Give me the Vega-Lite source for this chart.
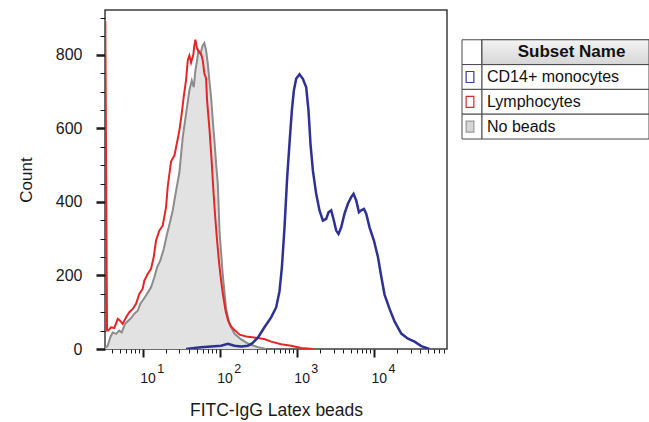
{
  "$schema": "https://vega.github.io/schema/vega-lite/v6.json",
  "background": "white",
  "padding": {"left": 16, "top": 9, "right": 0, "bottom": 0},
  "bounds": "flush",
  "spacing": 15,
  "config": {
    "font": "Liberation Sans",
    "view": {"stroke": "#3c3c3c", "strokeWidth": 1.5},
    "axis": {"domain": false, "grid": false, "tickColor": "#1a1a1a", "labelColor": "#1a1a1a", "titleColor": "#1a1a1a", "labelFont": "Liberation Sans", "titleFont": "Liberation Sans", "titleFontWeight": "normal"},
    "text": {"font": "Liberation Sans"}
  },
  "datasets": {
    "curves": [
      {"s": "Lymphocytes", "x": 3.27, "c": 892}, {"s": "Lymphocytes", "x": 3.44, "c": 50}, {"s": "Lymphocytes", "x": 3.57, "c": 50}, {"s": "Lymphocytes", "x": 3.88, "c": 59}, {"s": "Lymphocytes", "x": 4.28, "c": 57}, {"s": "Lymphocytes", "x": 4.74, "c": 82}, {"s": "Lymphocytes", "x": 4.97, "c": 79}, {"s": "Lymphocytes", "x": 5.5, "c": 68}, {"s": "Lymphocytes", "x": 6.07, "c": 86}, {"s": "Lymphocytes", "x": 6.7, "c": 100}, {"s": "Lymphocytes", "x": 7.42, "c": 109}, {"s": "Lymphocytes", "x": 8.19, "c": 123}, {"s": "Lymphocytes", "x": 9.03, "c": 150}, {"s": "Lymphocytes", "x": 10.0, "c": 164}, {"s": "Lymphocytes", "x": 10.49, "c": 186}, {"s": "Lymphocytes", "x": 11.61, "c": 204}, {"s": "Lymphocytes", "x": 12.82, "c": 218}, {"s": "Lymphocytes", "x": 13.9, "c": 250}, {"s": "Lymphocytes", "x": 14.88, "c": 295}, {"s": "Lymphocytes", "x": 16.43, "c": 322}, {"s": "Lymphocytes", "x": 18.19, "c": 336}, {"s": "Lymphocytes", "x": 20.08, "c": 386}, {"s": "Lymphocytes", "x": 21.12, "c": 442}, {"s": "Lymphocytes", "x": 23.31, "c": 510}, {"s": "Lymphocytes", "x": 25.73, "c": 526}, {"s": "Lymphocytes", "x": 27.07, "c": 548}, {"s": "Lymphocytes", "x": 29.88, "c": 594}, {"s": "Lymphocytes", "x": 32.1, "c": 641}, {"s": "Lymphocytes", "x": 34.08, "c": 687}, {"s": "Lymphocytes", "x": 36.5, "c": 731}, {"s": "Lymphocytes", "x": 38.4, "c": 785}, {"s": "Lymphocytes", "x": 40.29, "c": 798}, {"s": "Lymphocytes", "x": 42.4, "c": 779}, {"s": "Lymphocytes", "x": 45.41, "c": 801}, {"s": "Lymphocytes", "x": 46.79, "c": 826}, {"s": "Lymphocytes", "x": 48.21, "c": 841}, {"s": "Lymphocytes", "x": 50.73, "c": 817}, {"s": "Lymphocytes", "x": 54.34, "c": 807}, {"s": "Lymphocytes", "x": 57.16, "c": 803}, {"s": "Lymphocytes", "x": 60.14, "c": 785}, {"s": "Lymphocytes", "x": 63.1, "c": 749}, {"s": "Lymphocytes", "x": 66.39, "c": 736}, {"s": "Lymphocytes", "x": 68.4, "c": 676}, {"s": "Lymphocytes", "x": 73.7, "c": 594}, {"s": "Lymphocytes", "x": 78.3, "c": 513}, {"s": "Lymphocytes", "x": 82.6, "c": 431}, {"s": "Lymphocytes", "x": 86.9, "c": 363}, {"s": "Lymphocytes", "x": 92.2, "c": 295}, {"s": "Lymphocytes", "x": 97.9, "c": 235}, {"s": "Lymphocytes", "x": 104.0, "c": 186}, {"s": "Lymphocytes", "x": 110.4, "c": 145}, {"s": "Lymphocytes", "x": 118.9, "c": 104}, {"s": "Lymphocytes", "x": 128.2, "c": 77}, {"s": "Lymphocytes", "x": 140.2, "c": 61}, {"s": "Lymphocytes", "x": 158.0, "c": 50}, {"s": "Lymphocytes", "x": 180.8, "c": 39}, {"s": "Lymphocytes", "x": 219.6, "c": 34}, {"s": "Lymphocytes", "x": 278.9, "c": 31}, {"s": "Lymphocytes", "x": 376.2, "c": 27}, {"s": "Lymphocytes", "x": 463.7, "c": 20}, {"s": "Lymphocytes", "x": 625.5, "c": 13}, {"s": "Lymphocytes", "x": 843.7, "c": 9}, {"s": "Lymphocytes", "x": 1137, "c": 3}, {"s": "Lymphocytes", "x": 1628, "c": 0},
      {"s": "No beads", "x": 3.26, "c": 3}, {"s": "No beads", "x": 3.51, "c": 9}, {"s": "No beads", "x": 3.8, "c": 32}, {"s": "No beads", "x": 4.08, "c": 45}, {"s": "No beads", "x": 4.5, "c": 41}, {"s": "No beads", "x": 4.97, "c": 50}, {"s": "No beads", "x": 5.34, "c": 45}, {"s": "No beads", "x": 5.89, "c": 68}, {"s": "No beads", "x": 6.5, "c": 77}, {"s": "No beads", "x": 7.2, "c": 86}, {"s": "No beads", "x": 7.78, "c": 96}, {"s": "No beads", "x": 8.61, "c": 104}, {"s": "No beads", "x": 9.31, "c": 123}, {"s": "No beads", "x": 10.3, "c": 136}, {"s": "No beads", "x": 11.37, "c": 150}, {"s": "No beads", "x": 12.82, "c": 168}, {"s": "No beads", "x": 14.15, "c": 195}, {"s": "No beads", "x": 15.34, "c": 222}, {"s": "No beads", "x": 16.93, "c": 241}, {"s": "No beads", "x": 18.74, "c": 272}, {"s": "No beads", "x": 20.69, "c": 313}, {"s": "No beads", "x": 22.83, "c": 349}, {"s": "No beads", "x": 24.52, "c": 377}, {"s": "No beads", "x": 27.07, "c": 430}, {"s": "No beads", "x": 29.88, "c": 480}, {"s": "No beads", "x": 33.08, "c": 576}, {"s": "No beads", "x": 36.5, "c": 640}, {"s": "No beads", "x": 40.29, "c": 703}, {"s": "No beads", "x": 43.3, "c": 730}, {"s": "No beads", "x": 45.96, "c": 712}, {"s": "No beads", "x": 48.21, "c": 758}, {"s": "No beads", "x": 50.73, "c": 785}, {"s": "No beads", "x": 52.74, "c": 812}, {"s": "No beads", "x": 55.99, "c": 803}, {"s": "No beads", "x": 60.14, "c": 826}, {"s": "No beads", "x": 63.1, "c": 832}, {"s": "No beads", "x": 66.39, "c": 812}, {"s": "No beads", "x": 69.85, "c": 776}, {"s": "No beads", "x": 73.27, "c": 730}, {"s": "No beads", "x": 77.09, "c": 685}, {"s": "No beads", "x": 81.11, "c": 621}, {"s": "No beads", "x": 85.1, "c": 567}, {"s": "No beads", "x": 89.53, "c": 504}, {"s": "No beads", "x": 94.19, "c": 449}, {"s": "No beads", "x": 99.4, "c": 317}, {"s": "No beads", "x": 109.4, "c": 200}, {"s": "No beads", "x": 120.7, "c": 110}, {"s": "No beads", "x": 133.3, "c": 68}, {"s": "No beads", "x": 154.7, "c": 42}, {"s": "No beads", "x": 189.1, "c": 26}, {"s": "No beads", "x": 240.3, "c": 13}, {"s": "No beads", "x": 314.5, "c": 5}, {"s": "No beads", "x": 399.2, "c": 0},
      {"s": "CD14+ monocytes", "x": 36.5, "c": 0}, {"s": "CD14+ monocytes", "x": 57.2, "c": 5}, {"s": "CD14+ monocytes", "x": 77.1, "c": 7}, {"s": "CD14+ monocytes", "x": 104.0, "c": 9}, {"s": "CD14+ monocytes", "x": 127.0, "c": 14}, {"s": "CD14+ monocytes", "x": 154.7, "c": 9}, {"s": "CD14+ monocytes", "x": 189.1, "c": 7}, {"s": "CD14+ monocytes", "x": 231.0, "c": 9}, {"s": "CD14+ monocytes", "x": 262.7, "c": 15}, {"s": "CD14+ monocytes", "x": 311.6, "c": 31}, {"s": "CD14+ monocytes", "x": 344.0, "c": 45}, {"s": "CD14+ monocytes", "x": 379.6, "c": 59}, {"s": "CD14+ monocytes", "x": 463.7, "c": 86}, {"s": "CD14+ monocytes", "x": 538.5, "c": 113}, {"s": "CD14+ monocytes", "x": 594.3, "c": 156}, {"s": "CD14+ monocytes", "x": 638.6, "c": 221}, {"s": "CD14+ monocytes", "x": 690.2, "c": 328}, {"s": "CD14+ monocytes", "x": 748.2, "c": 466}, {"s": "CD14+ monocytes", "x": 801.5, "c": 558}, {"s": "CD14+ monocytes", "x": 861.0, "c": 649}, {"s": "CD14+ monocytes", "x": 914.2, "c": 703}, {"s": "CD14+ monocytes", "x": 979.3, "c": 735}, {"s": "CD14+ monocytes", "x": 1081, "c": 747}, {"s": "CD14+ monocytes", "x": 1196, "c": 735}, {"s": "CD14+ monocytes", "x": 1321, "c": 712}, {"s": "CD14+ monocytes", "x": 1415, "c": 649}, {"s": "CD14+ monocytes", "x": 1502, "c": 558}, {"s": "CD14+ monocytes", "x": 1614, "c": 485}, {"s": "CD14+ monocytes", "x": 1781, "c": 422}, {"s": "CD14+ monocytes", "x": 1966, "c": 377}, {"s": "CD14+ monocytes", "x": 2177, "c": 349}, {"s": "CD14+ monocytes", "x": 2402, "c": 354}, {"s": "CD14+ monocytes", "x": 2573, "c": 372}, {"s": "CD14+ monocytes", "x": 2789, "c": 377}, {"s": "CD14+ monocytes", "x": 3023, "c": 349}, {"s": "CD14+ monocytes", "x": 3239, "c": 322}, {"s": "CD14+ monocytes", "x": 3470, "c": 313}, {"s": "CD14+ monocytes", "x": 3761, "c": 331}, {"s": "CD14+ monocytes", "x": 4152, "c": 368}, {"s": "CD14+ monocytes", "x": 4596, "c": 395}, {"s": "CD14+ monocytes", "x": 5073, "c": 413}, {"s": "CD14+ monocytes", "x": 5435, "c": 422}, {"s": "CD14+ monocytes", "x": 5890, "c": 404}, {"s": "CD14+ monocytes", "x": 6387, "c": 372}, {"s": "CD14+ monocytes", "x": 6842, "c": 377}, {"s": "CD14+ monocytes", "x": 7417, "c": 381}, {"s": "CD14+ monocytes", "x": 7943, "c": 368}, {"s": "CD14+ monocytes", "x": 8768, "c": 331}, {"s": "CD14+ monocytes", "x": 10000, "c": 295}, {"s": "CD14+ monocytes", "x": 11270, "c": 250}, {"s": "CD14+ monocytes", "x": 12440, "c": 197}, {"s": "CD14+ monocytes", "x": 13730, "c": 148}, {"s": "CD14+ monocytes", "x": 15950, "c": 109}, {"s": "CD14+ monocytes", "x": 18510, "c": 75}, {"s": "CD14+ monocytes", "x": 22620, "c": 42}, {"s": "CD14+ monocytes", "x": 27650, "c": 28}, {"s": "CD14+ monocytes", "x": 33680, "c": 20}, {"s": "CD14+ monocytes", "x": 41160, "c": 8}, {"s": "CD14+ monocytes", "x": 52260, "c": 0}
    ],
    "table": [
      {"name": "Subset Name", "kind": "header"},
      {"name": "CD14+ monocytes", "kind": "row"},
      {"name": "Lymphocytes", "kind": "row"},
      {"name": "No beads", "kind": "row"}
    ]
  },
  "hconcat": [
    {
      "width": 342,
      "height": 339,
      "data": {"name": "curves"},
      "resolve": {"axis": {"x": "independent"}},
      "encoding": {
        "y": {
          "field": "c", "type": "quantitative",
          "scale": {"domain": [0, 922], "nice": false, "zero": true},
          "title": "Count",
          "axis": {
            "values": [0, 50, 100, 150, 200, 250, 300, 350, 400, 450, 500, 550, 600, 650, 700, 750, 800, 850, 900],
            "labelExpr": "datum.value % 200 == 0 ? datum.label : ''",
            "tickSize": {"condition": {"test": "datum.value % 200 == 0", "value": 9}, "value": 5},
            "tickWidth": {"condition": {"test": "datum.value % 200 == 0", "value": 2.5}, "value": 1},
            "labelPadding": 14, "labelFontSize": 16, "labelOverlap": false, "labelFlush": false,
            "titlePadding": 25, "titleFontSize": 17, "minExtent": 45, "maxExtent": 45
          }
        }
      },
      "layer": [
        {
          "transform": [{"filter": "datum.s === 'No beads'"}],
          "mark": {"type": "area", "fill": "#e2e2e2", "opacity": 1, "clip": true},
          "encoding": {
            "x": {
              "field": "x", "type": "quantitative",
              "scale": {"type": "log", "domain": [3.24, 88700], "nice": false},
              "title": "FITC-IgG Latex beads",
              "axis": {
                "orient": "bottom",
                "values": [4, 5, 6, 7, 8, 9, 10, 20, 30, 40, 50, 60, 70, 80, 90, 100, 200, 300, 400, 500, 600, 700, 800, 900, 1000, 2000, 3000, 4000, 5000, 6000, 7000, 8000, 9000, 10000, 20000, 30000, 40000, 50000, 60000, 70000, 80000],
                "labelExpr": "datum.value == 10 || datum.value == 100 || datum.value == 1000 || datum.value == 10000 ? '10' : ''",
                "tickSize": {"condition": {"test": "datum.value == 10 || datum.value == 100 || datum.value == 1000 || datum.value == 10000", "value": 8}, "value": 4},
                "tickWidth": {"condition": {"test": "datum.value == 10 || datum.value == 100 || datum.value == 1000 || datum.value == 10000", "value": 2}, "value": 1},
                "labelAlign": "left", "labelOffset": -3, "labelPadding": 14, "labelFontSize": 14,
                "labelFlush": false, "labelOverlap": false, "labelBound": false,
                "titlePadding": 16, "titleFontSize": 17.5
              }
            }
          }
        },
        {
          "transform": [{"filter": "datum.s === 'No beads'"}],
          "mark": {"type": "line", "stroke": "#8c8c8c", "strokeWidth": 2, "clip": true},
          "encoding": {"x": {"field": "x", "type": "quantitative", "scale": {"type": "log", "domain": [3.24, 88700], "nice": false}, "axis": null}}
        },
        {
          "transform": [{"filter": "datum.s === 'Lymphocytes'"}],
          "mark": {"type": "line", "stroke": "#e32626", "strokeWidth": 2, "clip": true},
          "encoding": {"x": {"field": "x", "type": "quantitative", "scale": {"type": "log", "domain": [3.24, 88700], "nice": false}, "axis": null}}
        },
        {
          "transform": [{"filter": "datum.s === 'CD14+ monocytes'"}],
          "mark": {"type": "line", "stroke": "#2e3192", "strokeWidth": 2.5, "clip": true},
          "encoding": {
            "x": {
              "field": "x", "type": "quantitative",
              "scale": {"type": "log", "domain": [3.24, 88700], "nice": false},
              "title": null,
              "axis": {
                "orient": "bottom",
                "values": [10, 100, 1000, 10000],
                "labelExpr": "datum.value == 10 ? '1' : datum.value == 100 ? '2' : datum.value == 1000 ? '3' : '4'",
                "ticks": false, "domain": false,
                "labelAlign": "left", "labelOffset": 14, "labelPadding": 13.5, "labelFontSize": 12.5,
                "labelFlush": false, "labelOverlap": false, "labelBound": false
              }
            }
          }
        }
      ]
    },
    {
      "spacing": 0,
      "bounds": "flush",
      "hconcat": [
        {
          "width": 20,
          "height": 129,
          "view": {"stroke": null},
          "data": {"name": "table"},
          "encoding": {
            "y": {"field": "name", "type": "nominal", "sort": null, "axis": null,
                  "scale": {"domain": ["Subset Name", "CD14+ monocytes", "Lymphocytes", "No beads"], "paddingInner": 0, "paddingOuter": 0.6, "align": 1}}
          },
          "layer": [
            {"mark": {"type": "rect", "fill": "white", "stroke": "#4a4a4a", "strokeWidth": 1}},
            {
              "transform": [{"filter": "datum.kind === 'row'"}],
              "mark": {"type": "point", "shape": "M-0.7,-1H0.7V1H-0.7Z", "size": 121, "strokeWidth": 1.2, "opacity": 1, "xOffset": -2},
              "encoding": {
                "stroke": {"field": "name", "type": "nominal", "legend": null,
                           "scale": {"domain": ["CD14+ monocytes", "Lymphocytes", "No beads"], "range": ["#3d3d9e", "#d92b2b", "#9a9a9a"]}},
                "fill": {"field": "name", "type": "nominal", "legend": null,
                         "scale": {"domain": ["CD14+ monocytes", "Lymphocytes", "No beads"], "range": ["#ffffff", "#ffffff", "#d6d6d6"]}}
              }
            }
          ]
        },
        {
          "width": 167,
          "height": 129,
          "view": {"stroke": null},
          "data": {"name": "table"},
          "encoding": {
            "y": {"field": "name", "type": "nominal", "sort": null, "axis": null,
                  "scale": {"domain": ["Subset Name", "CD14+ monocytes", "Lymphocytes", "No beads"], "paddingInner": 0, "paddingOuter": 0.6, "align": 1}}
          },
          "layer": [
            {
              "mark": {"type": "rect", "fill": "white", "stroke": "#4a4a4a", "strokeWidth": 1},
              "encoding": {
                "x": {"datum": 0, "type": "quantitative", "scale": {"domain": [0, 1], "nice": false}, "axis": null},
                "x2": {"datum": 1}
              }
            },
            {
              "transform": [{"filter": "datum.kind === 'header'"}],
              "mark": {"type": "rect", "stroke": "#4a4a4a", "strokeWidth": 1,
                       "fill": {"gradient": "linear", "x1": 0, "y1": 0, "x2": 0, "y2": 1, "stops": [{"offset": 0, "color": "#f4f4f4"}, {"offset": 1, "color": "#d6d6d6"}]}},
              "encoding": {
                "x": {"datum": 0, "type": "quantitative"},
                "x2": {"datum": 1}
              }
            },
            {
              "transform": [{"filter": "datum.kind === 'header'"}],
              "mark": {"type": "text", "fontSize": 17, "fontWeight": "bold", "align": "center", "baseline": "middle", "color": "#111", "dx": 6},
              "encoding": {
                "x": {"datum": 0.5, "type": "quantitative"},
                "text": {"field": "name"}
              }
            },
            {
              "transform": [{"filter": "datum.kind === 'row'"}],
              "mark": {"type": "text", "fontSize": 16, "align": "left", "baseline": "middle", "color": "#111", "dx": 5},
              "encoding": {
                "x": {"datum": 0, "type": "quantitative"},
                "text": {"field": "name"}
              }
            }
          ]
        }
      ]
    }
  ]
}
